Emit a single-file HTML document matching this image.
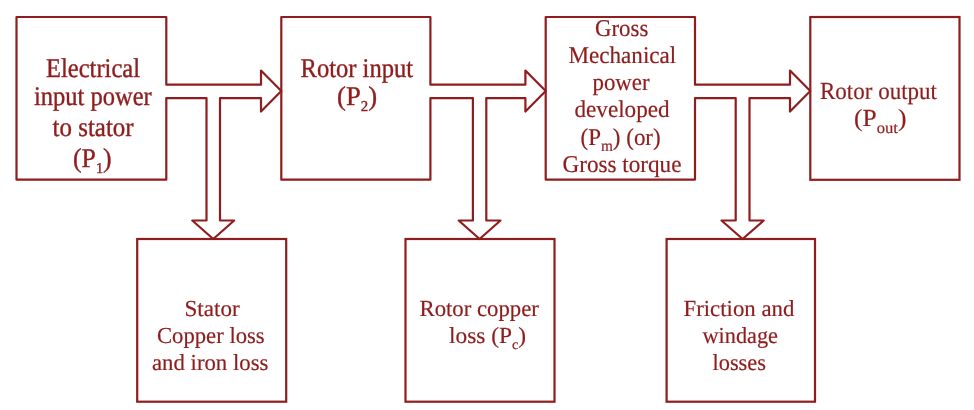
<!DOCTYPE html>
<html><head><meta charset="utf-8"><style>
html,body{margin:0;padding:0;background:#fff;width:974px;height:410px;overflow:hidden}
svg{display:block;will-change:transform} text{text-rendering:geometricPrecision}
</style></head><body>
<svg width="974" height="410" viewBox="0 0 974 410">
<rect x="810.3" y="17" width="149.20" height="162.80" fill="none" stroke="#8f1d1d" stroke-width="2.2"/>
<rect x="137.2" y="239" width="149.00" height="162.70" fill="none" stroke="#8f1d1d" stroke-width="2.2"/>
<rect x="405.5" y="239" width="149.00" height="162.70" fill="none" stroke="#8f1d1d" stroke-width="2.2"/>
<rect x="666.6" y="239" width="148.40" height="162.70" fill="none" stroke="#8f1d1d" stroke-width="2.2"/>
<polygon fill="none" stroke="#8f1d1d" stroke-width="2.2" stroke-linejoin="round" points="166.30,84.70 261.00,84.70 261.00,70.50 281.30,91.00 261.00,111.50 261.00,98.10 220.00,98.10 220.00,220.50 234.20,220.50 213.25,239.00 192.30,220.50 206.50,220.50 206.50,98.10 166.30,98.10 166.30,179.70 16.50,179.70 16.50,17.00 166.30,17.00"/>
<polygon fill="none" stroke="#8f1d1d" stroke-width="2.2" stroke-linejoin="round" points="430.40,84.70 525.40,84.70 525.40,70.50 545.70,91.00 525.40,111.50 525.40,98.10 486.30,98.10 486.30,220.50 500.50,220.50 479.60,239.00 458.70,220.50 472.90,220.50 472.90,98.10 430.40,98.10 430.40,179.70 281.30,179.70 281.30,17.00 430.40,17.00"/>
<polygon fill="none" stroke="#8f1d1d" stroke-width="2.2" stroke-linejoin="round" points="695.00,84.70 790.00,84.70 790.00,70.50 810.30,91.00 790.00,111.50 790.00,98.10 749.50,98.10 749.50,220.50 763.70,220.50 742.60,239.00 721.50,220.50 735.70,220.50 735.70,98.10 695.00,98.10 695.00,179.60 545.70,179.60 545.70,17.00 695.00,17.00"/>
<text font-family="Liberation Serif" fill="#8f1d1d" stroke="#8f1d1d" stroke-width="0.4" transform="translate(46.00,76.70) scale(0.9088,1)" font-size="27">Electrical</text>
<text font-family="Liberation Serif" fill="#8f1d1d" stroke="#8f1d1d" stroke-width="0.4" transform="translate(34.00,105.10) scale(0.9072,1)" font-size="27">input power</text>
<text font-family="Liberation Serif" fill="#8f1d1d" stroke="#8f1d1d" stroke-width="0.4" transform="translate(52.50,135.60) scale(0.9249,1)" font-size="27">to stator</text>
<text font-family="Liberation Serif" fill="#8f1d1d" stroke="#8f1d1d" stroke-width="0.4" transform="translate(73.00,166.80) scale(0.9532,1)" font-size="27">(P<tspan font-size="15" dy="6">1</tspan><tspan dy="-6">)</tspan></text>
<text font-family="Liberation Serif" fill="#8f1d1d" stroke="#8f1d1d" stroke-width="0.4" transform="translate(300.50,76.70) scale(0.9095,1)" font-size="27">Rotor input</text>
<text font-family="Liberation Serif" fill="#8f1d1d" stroke="#8f1d1d" stroke-width="0.4" transform="translate(337.00,104.60) scale(0.9893,1)" font-size="27">(P<tspan font-size="15" dy="6.5">2</tspan><tspan dy="-6.5">)</tspan></text>
<text font-family="Liberation Serif" fill="#8f1d1d" stroke="#8f1d1d" stroke-width="0.2" transform="translate(595.00,36.10) scale(0.9514,1)" font-size="24">Gross</text>
<text font-family="Liberation Serif" fill="#8f1d1d" stroke="#8f1d1d" stroke-width="0.2" transform="translate(568.50,63.10) scale(0.9628,1)" font-size="24">Mechanical</text>
<text font-family="Liberation Serif" fill="#8f1d1d" stroke="#8f1d1d" stroke-width="0.2" transform="translate(592.50,90.10) scale(0.9523,1)" font-size="24">power</text>
<text font-family="Liberation Serif" fill="#8f1d1d" stroke="#8f1d1d" stroke-width="0.2" transform="translate(574.50,117.10) scale(0.9639,1)" font-size="24">developed</text>
<text font-family="Liberation Serif" fill="#8f1d1d" stroke="#8f1d1d" stroke-width="0.2" transform="translate(580.50,145.00) scale(0.9570,1)" font-size="24">(P<tspan font-size="16" dy="5.5">m</tspan><tspan dy="-5.5">) (or)</tspan></text>
<text font-family="Liberation Serif" fill="#8f1d1d" stroke="#8f1d1d" stroke-width="0.2" transform="translate(562.50,171.50) scale(0.9645,1)" font-size="24">Gross torque</text>
<text font-family="Liberation Serif" fill="#8f1d1d" stroke="#8f1d1d" stroke-width="0.2" transform="translate(820.00,98.70) scale(0.9388,1)" font-size="24.5">Rotor output</text>
<text font-family="Liberation Serif" fill="#8f1d1d" stroke="#8f1d1d" stroke-width="0.2" transform="translate(854.00,125.90) scale(1.0399,1)" font-size="24.5">(P<tspan font-size="16" dy="7.2">out</tspan><tspan dy="-7.2">)</tspan></text>
<text font-family="Liberation Serif" fill="#8f1d1d" stroke="#8f1d1d" stroke-width="0.2" transform="translate(184.50,315.70) scale(1.0027,1)" font-size="23">Stator</text>
<text font-family="Liberation Serif" fill="#8f1d1d" stroke="#8f1d1d" stroke-width="0.2" transform="translate(157.00,342.80) scale(0.9856,1)" font-size="23">Copper loss</text>
<text font-family="Liberation Serif" fill="#8f1d1d" stroke="#8f1d1d" stroke-width="0.2" transform="translate(152.00,369.90) scale(0.9901,1)" font-size="23">and iron loss</text>
<text font-family="Liberation Serif" fill="#8f1d1d" stroke="#8f1d1d" stroke-width="0.2" transform="translate(419.50,315.70) scale(0.9888,1)" font-size="23">Rotor copper</text>
<text font-family="Liberation Serif" fill="#8f1d1d" stroke="#8f1d1d" stroke-width="0.2" transform="translate(449.00,342.60) scale(1.0147,1)" font-size="23">loss (P<tspan font-size="14" dy="6.8">c</tspan><tspan dy="-6.8">)</tspan></text>
<text font-family="Liberation Serif" fill="#8f1d1d" stroke="#8f1d1d" stroke-width="0.2" transform="translate(683.50,315.70) scale(0.9915,1)" font-size="23">Friction and</text>
<text font-family="Liberation Serif" fill="#8f1d1d" stroke="#8f1d1d" stroke-width="0.2" transform="translate(702.50,342.80) scale(0.9683,1)" font-size="23">windage</text>
<text font-family="Liberation Serif" fill="#8f1d1d" stroke="#8f1d1d" stroke-width="0.2" transform="translate(712.50,369.80) scale(0.9733,1)" font-size="23">losses</text>
</svg>
</body></html>
